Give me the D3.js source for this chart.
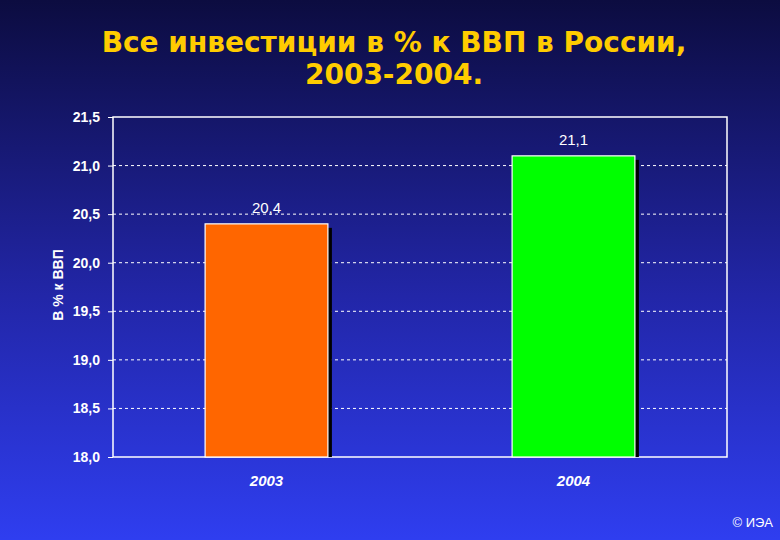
<!DOCTYPE html>
<html><head><meta charset="utf-8">
<script src="https://cdn.jsdelivr.net/npm/d3@7"></script>
<style>body{margin:0;background:#000}svg{display:block}</style>
</head><body>
<svg id="c" width="780" height="540"></svg>
<script>
const years = ['2003', '2004'];
const values = [20.4, 21.1];
const labels = ['20,4', '21,1'];
const colors = ['#ff6600', '#00ff00'];
const ticks = [18.0, 18.5, 19.0, 19.5, 20.0, 20.5, 21.0, 21.5];

const svg = d3.select('#c');
const fmt = d => d.toFixed(1).replace('.', ',');

const grad = svg.append('defs').append('linearGradient')
    .attr('id', 'bg').attr('x1', 0).attr('y1', 0).attr('x2', 0).attr('y2', 1);
grad.append('stop').attr('offset', '0%').attr('stop-color', '#0c0c40');
grad.append('stop').attr('offset', '55%').attr('stop-color', '#2226a8');
grad.append('stop').attr('offset', '100%').attr('stop-color', '#2f3ef0');
svg.append('rect').attr('width', 780).attr('height', 540).attr('fill', 'url(#bg)');

svg.append('text').attr('x', 394).attr('y', 52).attr('text-anchor', 'middle')
    .attr('fill', '#ffcc00').attr('font-family', 'Verdana, DejaVu Sans, sans-serif')
    .attr('font-weight', 'bold').attr('font-size', 28)
    .text('Все инвестиции в % к ВВП в России,');
svg.append('text').attr('x', 394).attr('y', 84).attr('text-anchor', 'middle')
    .attr('fill', '#ffcc00').attr('font-family', 'Verdana, DejaVu Sans, sans-serif')
    .attr('font-weight', 'bold').attr('font-size', 28)
    .text('2003-2004.');

const pLeft = 113, pRight = 727, pTop = 117, pBottom = 457;
const y = d3.scaleLinear().domain([18, 21.5]).range([pBottom, pTop]);
const x = d3.scaleBand().domain(years).range([pLeft, pRight]).paddingInner(0.6).paddingOuter(0.3);

const g = svg.append('g').attr('font-family', 'Arial, Liberation Sans, sans-serif');

g.selectAll('line.grid').data(ticks.slice(1, -1)).join('line')
    .attr('x1', pLeft).attr('x2', pRight).attr('y1', d => y(d)).attr('y2', d => y(d))
    .attr('stroke', '#fff').attr('stroke-dasharray', '3,3').attr('stroke-width', 1);

g.append('rect').attr('x', pLeft).attr('y', pTop).attr('width', pRight - pLeft).attr('height', pBottom - pTop)
    .attr('fill', 'none').attr('stroke', '#fff').attr('stroke-width', 1.5);

const axis = d3.axisLeft(y).tickValues(ticks).tickFormat(fmt).tickSize(5).tickPadding(8);
const ag = g.append('g').attr('transform', `translate(${pLeft},0)`).call(axis);
ag.select('.domain').remove();
ag.selectAll('line').attr('stroke', '#fff');
ag.selectAll('text').attr('fill', '#fff').attr('font-size', 14).attr('font-weight', 'bold')
    .attr('font-family', 'Arial, Liberation Sans, sans-serif');

// shadows
g.selectAll('rect.sh').data(values).join('rect')
    .attr('x', (d, i) => x(years[i]) + 4).attr('y', d => y(d) + 4)
    .attr('width', x.bandwidth()).attr('height', d => pBottom - y(d) - 4)
    .attr('fill', '#000');
g.selectAll('rect.bar').data(values).join('rect')
    .attr('x', (d, i) => x(years[i])).attr('y', d => y(d))
    .attr('width', x.bandwidth()).attr('height', d => pBottom - y(d))
    .attr('fill', (d, i) => colors[i]).attr('stroke', '#fff').attr('stroke-width', 1.2);

g.selectAll('text.val').data(values).join('text')
    .attr('x', (d, i) => x(years[i]) + x.bandwidth() / 2).attr('y', d => y(d) - 11)
    .attr('text-anchor', 'middle').attr('fill', '#fff').attr('font-size', 15)
    .text((d, i) => labels[i]);

g.selectAll('text.cat').data(years).join('text')
    .attr('x', d => x(d) + x.bandwidth() / 2).attr('y', 486)
    .attr('text-anchor', 'middle').attr('fill', '#fff').attr('font-size', 15)
    .attr('font-weight', 'bold').attr('font-style', 'italic').text(d => d);

g.append('text').attr('transform', `translate(63,${(pTop + pBottom) / 2 - 2}) rotate(-90)`)
    .attr('text-anchor', 'middle').attr('fill', '#fff').attr('font-size', 14)
    .attr('font-weight', 'bold').text('В % к ВВП');

g.append('text').attr('x', 773).attr('y', 527).attr('text-anchor', 'end')
    .attr('fill', '#fff').attr('font-size', 13).text('© ИЭА');
</script>
</body></html>
